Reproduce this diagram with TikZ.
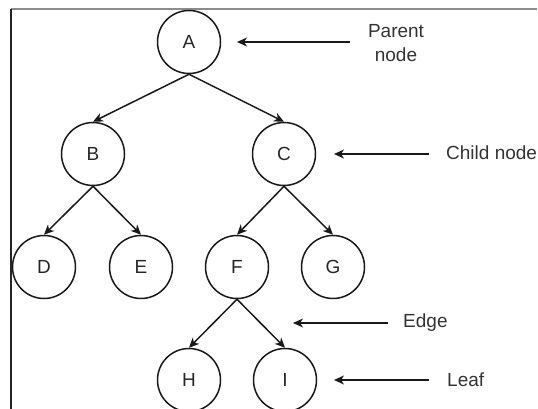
\documentclass[tikz,border=0pt]{standalone}
\usepackage{fontspec}
\setmainfont{Liberation Sans}
\usetikzlibrary{arrows.meta}
\begin{document}
\begin{tikzpicture}[x=1pt,y=-1pt,
  treenode/.style={circle,draw=black!90,line width=1.5pt,minimum size=63pt,inner sep=0pt,font=\fontsize{19}{21}\selectfont,text=black!85},
  lbl/.style={font=\fontsize{19}{24}\selectfont,text=black!80,align=center,inner sep=0pt},
  conn/.style={draw=black!90,line width=1.5pt,-{Stealth[length=10pt,width=9pt,inset=3pt]}},
  framegray/.style={fill=black!45,draw=none},
  frameblack/.style={draw=black!85,line width=1.6pt}]
\useasboundingbox (0,0) rectangle (538,409);
% frame
\coordinate (f0) at (11,8);
\coordinate (f1) at (537,10);
\coordinate (f3) at (11,9);
\coordinate (f2) at (11,409);
\path[framegray] (f0) rectangle (f1);
\path[frameblack] (f3) -- (f2);
% nodes
\node[treenode] (A) at (189,42) {A};
\node[treenode] (B) at (93,154) {B};
\node[treenode] (C) at (284,154) {C};
\node[treenode] (D) at (44,267) {D};
\node[treenode] (E) at (141,267) {E};
\node[treenode] (F) at (237,267) {F};
\node[treenode] (G) at (333,267) {G};
\node[treenode] (H) at (189,380) {H};
\node[treenode] (I) at (285,380) {I};
% edges
\draw[conn] (A.south) -- (B.north);
\draw[conn] (A.south) -- (C.north);
\draw[conn] (B.south) -- (D.north);
\draw[conn] (B.south) -- (E.north);
\draw[conn] (C.south) -- (F.north);
\draw[conn] (C.south) -- (G.north);
\draw[conn] (F.south) -- (H.north);
\draw[conn] (F.south) -- (I.north);
% labels
\node[lbl] (tparent) at (396,43) {Parent\\node};
\node[lbl,anchor=west] (tchild) at (446,153) {Child node};
\node[lbl,anchor=west] (tedge) at (403,323) {Edge};
\node[lbl,anchor=west] (tleaf) at (447,380) {Leaf};
\coordinate (p0) at (350,42);
\coordinate (p1) at (237,42);
\coordinate (c0) at (429,154);
\coordinate (c1) at (334,154);
\coordinate (e0) at (388,323);
\coordinate (e1) at (293,323);
\coordinate (l0) at (429,380);
\coordinate (l1) at (334,380);
\draw[conn] (p0) -- (p1);
\draw[conn] (c0) -- (c1);
\draw[conn] (e0) -- (e1);
\draw[conn] (l0) -- (l1);
\end{tikzpicture}
\end{document}
